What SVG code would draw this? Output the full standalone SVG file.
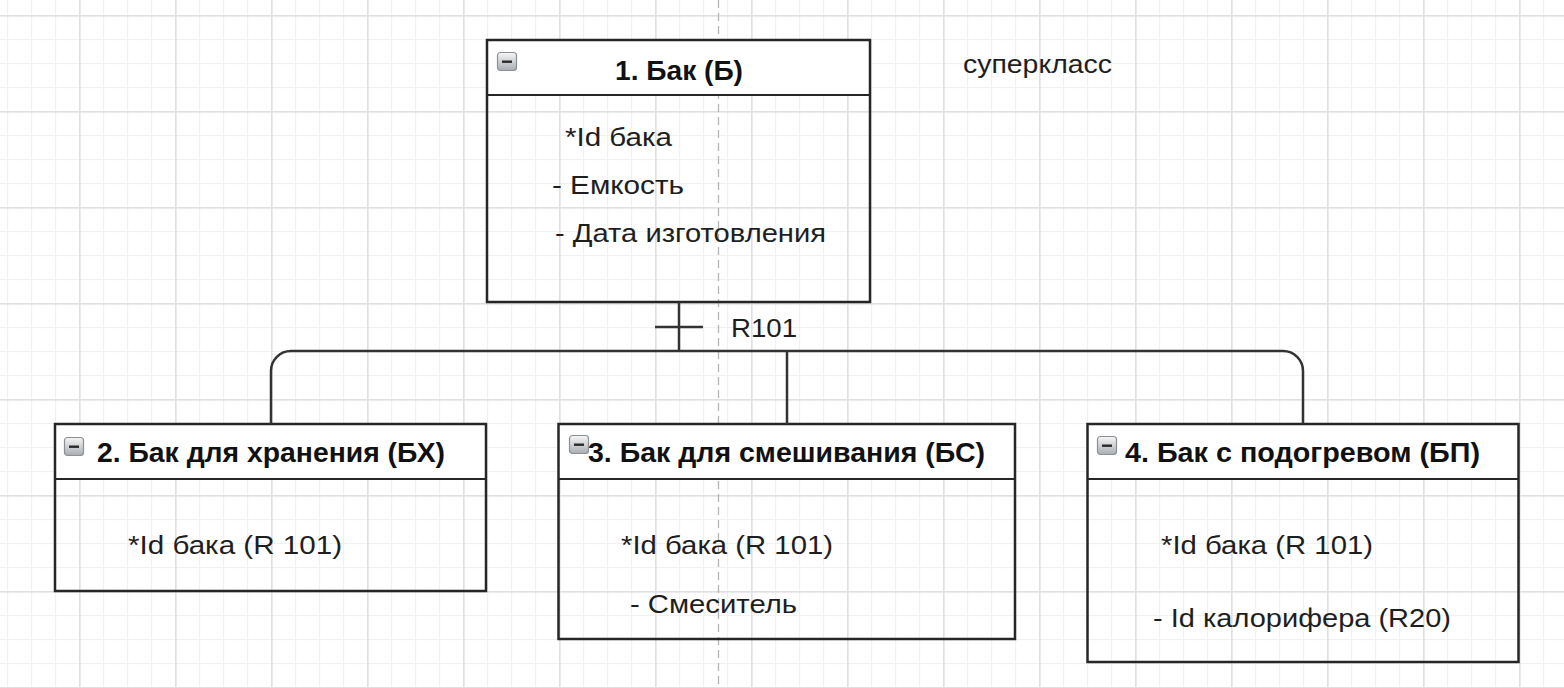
<svg xmlns="http://www.w3.org/2000/svg" width="1564" height="688" viewBox="0 0 1564 688">
<style>
.box{fill:none;stroke:#262626;stroke-width:2.5}
.hdr{fill:#ffffff;stroke:none}
.div{stroke:#262626;stroke-width:2}
.t{font-family:"Liberation Sans",Arial,sans-serif;font-size:25px;fill:#1e1e1e}
.b{font-family:"Liberation Sans",Arial,sans-serif;font-size:28px;font-weight:bold;fill:#111111}
.conn{fill:none;stroke:#333333;stroke-width:2.5}
</style>
<defs>
<pattern id="minor" patternUnits="userSpaceOnUse" x="7" y="15" width="24" height="24">
<rect x="0" y="0" width="24" height="1.2" fill="#f1f1f1"/>
<rect x="0" y="0" width="1.2" height="24" fill="#f1f1f1"/>
</pattern>
<pattern id="major" patternUnits="userSpaceOnUse" x="79" y="15" width="96" height="96">
<rect x="0" y="0" width="96" height="1.6" fill="#e0e0e0"/>
<rect x="0" y="0" width="1.6" height="96" fill="#e0e0e0"/>
</pattern>
<linearGradient id="ig" x1="0" y1="0" x2="0" y2="1">
<stop offset="0" stop-color="#f6f6f6"/>
<stop offset="1" stop-color="#a9adb2"/>
</linearGradient>
<g id="icon">
<rect x="0.5" y="0.5" width="19" height="18" rx="3" fill="url(#ig)" stroke="#8c9096" stroke-width="1.2"/>
<rect x="5" y="8.5" width="10" height="2.4" fill="#2a2a2a"/>
</g>
</defs>
<rect width="1564" height="688" fill="#ffffff"/>
<rect width="1564" height="688" fill="url(#minor)"/>
<rect width="1564" height="688" fill="url(#major)"/>
<line x1="718.5" y1="0" x2="718.5" y2="688" stroke="#b4b4b4" stroke-width="1.3" stroke-dasharray="8,5"/>

<g id="node1">
<rect class="hdr" x="487" y="40" width="383" height="55"/>
<rect class="box" x="487" y="40" width="383" height="262"/>
<line class="div" x1="487" y1="95" x2="870" y2="95"/>
<use href="#icon" x="497" y="52"/>
<text class="b" x="615" y="80" textLength="128" lengthAdjust="spacingAndGlyphs">1. Бак (Б)</text>
<text class="t" x="565" y="146" textLength="107" lengthAdjust="spacingAndGlyphs">*Id бака</text>
<text class="t" x="552" y="194" textLength="132" lengthAdjust="spacingAndGlyphs">- Емкость</text>
<text class="t" x="555" y="242" textLength="271" lengthAdjust="spacingAndGlyphs">- Дата изготовления</text>
</g>

<g id="label-superclass">
<text class="t" x="963" y="73" textLength="149" lengthAdjust="spacingAndGlyphs">суперкласс</text>
</g>

<g id="node2">
<rect class="hdr" x="55" y="424" width="431" height="55"/>
<rect class="box" x="55" y="424" width="431" height="167"/>
<line class="div" x1="55" y1="479" x2="486" y2="479"/>
<use href="#icon" x="64" y="437"/>
<text class="b" x="97" y="462" textLength="348" lengthAdjust="spacingAndGlyphs">2. Бак для хранения (БХ)</text>
<text class="t" x="128" y="554" textLength="214" lengthAdjust="spacingAndGlyphs">*Id бака (R 101)</text>
</g>

<g id="node3">
<rect class="hdr" x="558.5" y="424" width="456.5" height="55"/>
<rect class="box" x="558.5" y="424" width="456.5" height="215"/>
<line class="div" x1="558.5" y1="479" x2="1015" y2="479"/>
<use href="#icon" x="569" y="435"/>
<text class="b" x="588" y="462" textLength="397" lengthAdjust="spacingAndGlyphs">3. Бак для смешивания (БС)</text>
<text class="t" x="621" y="554" textLength="212" lengthAdjust="spacingAndGlyphs">*Id бака (R 101)</text>
<text class="t" x="630" y="613" textLength="167" lengthAdjust="spacingAndGlyphs">- Смеситель</text>
</g>

<g id="node4">
<rect class="hdr" x="1087.5" y="424" width="431" height="55"/>
<rect class="box" x="1087.5" y="424" width="431" height="238"/>
<line class="div" x1="1087.5" y1="479" x2="1518.5" y2="479"/>
<use href="#icon" x="1097" y="436"/>
<text class="b" x="1125" y="462" textLength="355" lengthAdjust="spacingAndGlyphs">4. Бак с подогревом (БП)</text>
<text class="t" x="1161" y="554" textLength="212" lengthAdjust="spacingAndGlyphs">*Id бака (R 101)</text>
<text class="t" x="1153" y="627" textLength="298" lengthAdjust="spacingAndGlyphs">- Id калорифера (R20)</text>
</g>

<g id="connectors">
<path class="conn" d="M679 302 V351"/>
<path class="conn" d="M655 327 H703"/>
<path class="conn" d="M271 424 V371 A20 20 0 0 1 291 351 H1283 A20 20 0 0 1 1303 371 V424"/>
<path class="conn" d="M787 351 V424"/>
<text class="t" x="731" y="337" textLength="66" lengthAdjust="spacingAndGlyphs">R101</text>
</g>
</svg>
